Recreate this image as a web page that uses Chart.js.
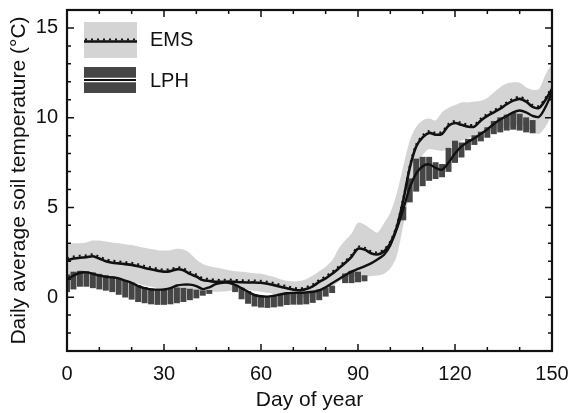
<!DOCTYPE html>
<html>
<head>
<meta charset="utf-8">
<script src="https://cdn.jsdelivr.net/npm/chart.js@4.4.1/dist/chart.umd.min.js"></script>
<style>
html, body { margin: 0; padding: 0; background: #fff; }
#wrap { width: 570px; height: 413px; }
</style>
</head>
<body>
<div id="wrap"><canvas id="myChart" width="570" height="413"></canvas></div>
<script>
// days 0..150, every second day
const days = Array.from({length: 76}, (_, i) => i * 2);
const xTicks = [0, 30, 60, 90, 120, 150];
const yTicks = [0, 5, 10, 15];

const emsMean = [
    2.05, 2.15, 2.2, 2.22, 2.28, 2.15, 2.0, 1.92, 1.88, 1.84,
    1.8, 1.72, 1.63, 1.55, 1.48, 1.42, 1.45, 1.55, 1.5, 1.3,
    1.15, 0.95, 0.9, 0.86, 0.85, 0.87, 0.85, 0.83, 0.82, 0.82,
    0.8, 0.75, 0.67, 0.58, 0.5, 0.42, 0.38, 0.45, 0.6, 0.85,
    1.05, 1.3, 1.6, 1.9, 2.25, 2.7, 2.65, 2.45, 2.38, 2.55,
    3.0, 3.9, 5.4, 7.2, 8.4, 8.9, 9.15, 9.05, 9.1, 9.55,
    9.7, 9.6, 9.5, 9.5, 9.85, 10.1, 10.3, 10.5, 10.75, 10.95,
    11.05, 10.9, 10.6, 10.55, 11.0, 11.6
];
const emsHigh = [
    2.95, 3.0, 3.0, 3.05, 3.15, 3.15, 3.1, 3.05, 3.0, 2.95,
    2.9, 2.82, 2.75, 2.68, 2.62, 2.6, 2.62, 2.7, 2.65, 2.45,
    2.1, 1.85, 1.72, 1.65, 1.58, 1.5, 1.45, 1.42, 1.38, 1.33,
    1.3, 1.22, 1.12, 1.0, 0.92, 0.88, 0.9, 1.0, 1.2, 1.45,
    1.7, 2.05, 2.7, 3.15, 3.55, 4.15, 4.05, 3.8, 3.6, 4.1,
    4.7, 5.8, 7.3, 8.7, 9.5, 9.85, 9.95, 9.85, 10.3, 10.55,
    10.7, 10.85, 10.85, 10.9, 10.95, 11.1, 11.4, 11.7, 11.9, 11.97,
    11.95, 11.7, 11.55, 11.6, 12.4, 13.0
];
const emsLow = [
    1.2, 1.25, 1.3, 1.3, 1.25, 1.15, 1.1, 1.05, 1.0, 0.92,
    0.85, 0.75, 0.65, 0.58, 0.5, 0.45, 0.45, 0.48, 0.45, 0.42,
    0.38, 0.33, 0.3, 0.3, 0.32, 0.35, 0.38, 0.4, 0.38, 0.34,
    0.3, 0.25, 0.18, 0.1, 0.05, 0.0, -0.04, -0.02, 0.1, 0.25,
    0.42, 0.6, 0.85, 1.05, 1.15, 1.17, 1.17, 1.17, 1.2, 1.3,
    1.6, 2.3, 4.0, 5.8, 7.1, 7.9, 8.25, 8.2, 8.15, 8.25,
    8.5, 8.7, 8.85, 9.0, 9.1, 9.2, 9.3, 9.4, 9.5, 9.6,
    9.6, 9.5, 9.2, 9.1, 9.5, 10.2
];
const lphMean = [
    1.0, 1.2, 1.36, 1.38, 1.3, 1.2, 1.14, 1.1, 1.05, 0.92,
    0.8, 0.62, 0.5, 0.43, 0.42, 0.43, 0.5, 0.65, 0.7, 0.7,
    0.62, 0.45, 0.55, 0.72, 0.8, 0.8, 0.68, 0.5, 0.3, 0.12,
    0.05, 0.03, 0.08, 0.15, 0.22, 0.24, 0.24, 0.26, 0.3, 0.38,
    0.55, 0.78, 1.0, 1.22, 1.42, 1.57, 1.72, 1.88, 2.1, 2.35,
    2.9, 3.8, 4.9, 6.1, 6.9, 7.3, 7.4, 7.2, 7.1, 7.5,
    8.0, 8.4, 8.65, 8.85, 9.1, 9.35, 9.65, 9.9, 10.1, 10.3,
    10.4, 10.3, 10.1, 10.05, 10.6, 11.4
];
const lphLow = [
    0.3, 0.45, 0.6, 0.6, 0.52, 0.45, 0.38, 0.3, 0.15, 0.0,
    -0.12, -0.25, -0.32, -0.38, -0.41, -0.41, -0.38, -0.32, -0.25, -0.15,
    -0.05, 0.1, 0.2, null, null, null, 0.3, -0.1, -0.35, -0.5,
    -0.56, -0.58, -0.55, -0.5, -0.42, -0.4, -0.4, -0.38, -0.3, -0.15,
    0.05, 0.25, null, 0.8, 0.8, 0.85, 0.9, null, null, null,
    null, null, 4.3, 5.3, 5.9, 6.2, 6.5, 6.6, 6.7, 7.0,
    7.5, 7.8, 8.2, 8.5, 8.7, 8.9, 9.1, 9.2, 9.3, 9.35,
    9.3, 9.2, 9.15, null, null, null
];
const lphHigh = [
    1.25, 1.4, 1.45, 1.42, 1.36, 1.28, 1.2, 1.15, 1.05, 0.92,
    0.8, 0.65, 0.55, 0.47, 0.43, 0.43, 0.48, 0.52, 0.5, 0.45,
    0.4, 0.36, 0.38, null, null, null, 0.65, 0.5, 0.32, 0.15,
    0.06, 0.05, 0.1, 0.18, 0.24, 0.22, 0.18, 0.2, 0.3, 0.42,
    0.52, 0.62, null, 1.3, 1.45, 1.4, 1.2, null, null, null,
    null, null, 5.0, 6.6, 7.7, 7.8, 7.8, 7.5, 7.4, 8.3,
    8.7, 8.6, 8.8, 9.0, 9.2, 9.45, 9.8, 10.0, 10.15, 10.25,
    10.2, 10.0, 9.85, null, null, null
];

const lightGray = 'rgb(212,212,212)';
const darkGray = 'rgb(70,70,70)';
const ink = '#111';

let toPoints = (arr) => days.map((d, i) => ({x: d, y: arr[i]}));
const lphBars = days
    .map((d, i) => ({x: d, y: lphLow[i] == null ? null : [lphLow[i], lphHigh[i]]}))
    .filter(p => p.y);

Chart.defaults.font.family = '"Liberation Sans", Arial, sans-serif';
Chart.defaults.font.size = 20;
Chart.defaults.color = ink;

const framePlugin = {
    id: 'frame',
    beforeDatasetDraw(chart, args) {
        if (chart.data.datasets[args.index].shiftUp) {
            chart.ctx.save();
            chart.ctx.translate(0, -2);
        }
    },
    afterDatasetDraw(chart, args) {
        if (chart.data.datasets[args.index].shiftUp) chart.ctx.restore();
    },
    afterDatasetsDraw(chart) {
        const {ctx, chartArea: a, scales: {x, y}} = chart;
        ctx.save();
        ctx.strokeStyle = ink;
        ctx.lineWidth = 1.5;
        ctx.beginPath();
        for (let d = 10; d < 150; d += 10) {
            const px = x.getPixelForValue(d);
            const len = d % 30 === 0 ? 7 : 4;
            ctx.moveTo(px, a.bottom); ctx.lineTo(px, a.bottom - len);
            ctx.moveTo(px, a.top); ctx.lineTo(px, a.top + len);
        }
        for (let v = -2; v <= 15; v++) {
            const py = y.getPixelForValue(v);
            const len = v % 5 === 0 ? 7 : 4;
            ctx.moveTo(a.left, py); ctx.lineTo(a.left + len, py);
            ctx.moveTo(a.right, py); ctx.lineTo(a.right - len, py);
        }
        ctx.stroke();
        ctx.lineWidth = 2.2;
        ctx.strokeRect(a.left, a.top, a.right - a.left, a.bottom - a.top);

        // legend
        ctx.fillStyle = lightGray;
        ctx.fillRect(84, 22, 53, 36);
        ctx.strokeStyle = ink;
        ctx.lineWidth = 2.5;
        ctx.beginPath(); ctx.moveTo(84, 41.5); ctx.lineTo(137, 41.5); ctx.stroke();
        ctx.lineWidth = 2;
        ctx.setLineDash([2, 4]);
        ctx.beginPath(); ctx.moveTo(85, 39.5); ctx.lineTo(137, 39.5); ctx.stroke();
        ctx.setLineDash([]);
        ctx.fillStyle = darkGray;
        ctx.fillRect(84, 67, 52, 26);
        ctx.strokeStyle = '#fff';
        ctx.lineWidth = 4.5;
        ctx.beginPath(); ctx.moveTo(84, 80); ctx.lineTo(136, 80); ctx.stroke();
        ctx.strokeStyle = ink;
        ctx.lineWidth = 1.8;
        ctx.beginPath(); ctx.moveTo(84, 80); ctx.lineTo(136, 80); ctx.stroke();
        ctx.fillStyle = ink;
        ctx.font = '20px "Liberation Sans", Arial, sans-serif';
        ctx.textBaseline = 'middle';
        ctx.textAlign = 'left';
        ctx.fillText('EMS', 150, 40);
        ctx.fillText('LPH', 150, 81);
        ctx.restore();
    }
};

const data = {
    datasets: [
        {
            type: 'line',
            label: 'EMS range',
            data: toPoints(emsHigh),
            fill: '+1',
            backgroundColor: lightGray,
            borderColor: 'transparent',
            borderWidth: 0,
            order: 10
        },
        {
            type: 'line',
            label: 'EMS low',
            data: toPoints(emsLow),
            fill: false,
            borderColor: 'transparent',
            borderWidth: 0,
            order: 10
        },
        {
            type: 'bar',
            label: 'LPH range',
            data: lphBars,
            backgroundColor: darkGray,
            borderWidth: 0,
            barThickness: 5.3,
            order: 8
        },
        {
            type: 'line',
            label: 'LPH',
            data: toPoints(lphMean),
            borderColor: ink,
            borderWidth: 2.4,
            order: 5
        },
        {
            type: 'line',
            label: 'EMS',
            data: toPoints(emsMean),
            borderColor: ink,
            borderWidth: 2.6,
            order: 4
        },
        {
            type: 'line',
            label: 'EMS dots',
            data: toPoints(emsMean),
            borderColor: ink,
            borderWidth: 2,
            borderDash: [2, 4],
            shiftUp: true,
            order: 3
        }
    ]
};

const config = {
    type: 'line',
    data: data,
    options: {
        responsive: false,
        animation: false,
        layout: {padding: {top: 10, right: 18, left: 0, bottom: 0}},
        elements: {
            point: {radius: 0},
            line: {tension: 0.3}
        },
        plugins: {
            legend: {display: false},
            tooltip: {enabled: false}
        },
        scales: {
            x: {
                type: 'linear',
                min: 0,
                max: 150,
                offset: false,
                grid: {display: false, drawTicks: false},
                border: {display: false},
                ticks: {padding: 11, color: ink, maxRotation: 0},
                afterBuildTicks: (s) => { s.ticks = xTicks.map(v => ({value: v})); },
                afterFit: (s) => { s.height = 62; s.paddingLeft = 0; s.paddingRight = 0; },
                title: {display: true, text: 'Day of year', color: ink, font: {size: 21}, padding: {top: 0, bottom: 0}}
            },
            y: {
                type: 'linear',
                min: -3,
                max: 16,
                grid: {display: false, drawTicks: false},
                border: {display: false},
                ticks: {padding: 9, color: ink},
                afterBuildTicks: (s) => { s.ticks = yTicks.map(v => ({value: v})); },
                afterFit: (s) => { s.width = 67; s.paddingTop = 0; s.paddingBottom = 0; },
                title: {display: true, text: 'Daily average soil temperature (°C)', color: ink, font: {size: 21}, padding: {top: 7, bottom: 0}}
            }
        }
    },
    plugins: [framePlugin]
};

new Chart(document.getElementById('myChart'), config);
</script>
</body>
</html>
